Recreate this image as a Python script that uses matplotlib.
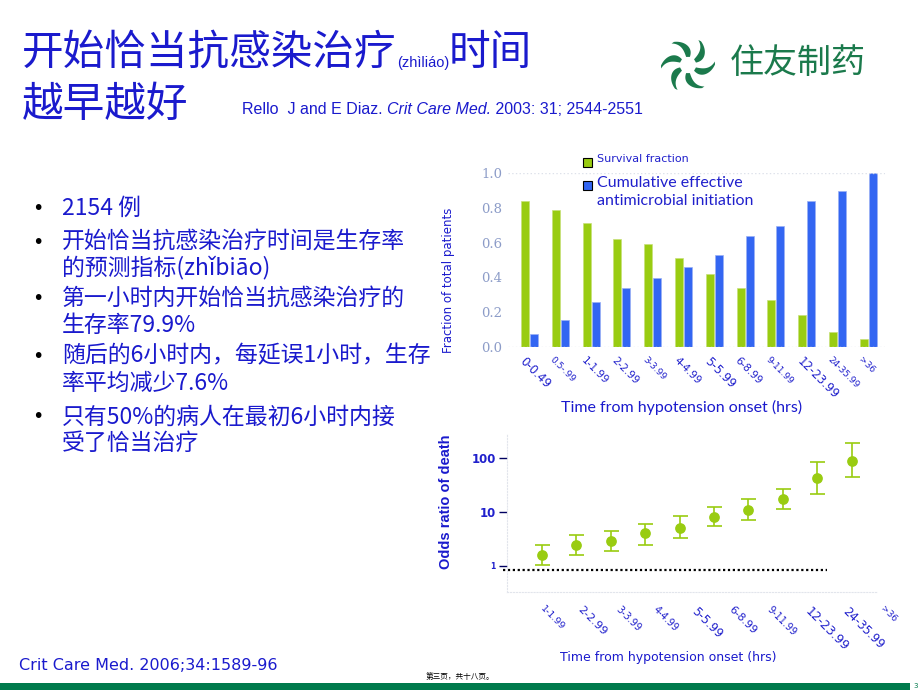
import numpy as np
import matplotlib
matplotlib.use("Agg")
import matplotlib.pyplot as plt
from matplotlib.patches import Polygon, Rectangle
from matplotlib.transforms import ScaledTranslation

# ------------------------------------------------------------------
# data
# ------------------------------------------------------------------
groups = ["0-0.49", "0.5-.99", "1-1.99", "2-2.99", "3-3.99", "4-4.99",
          "5-5.99", "6-8.99", "9-11.99", "12-23.99", "24-35.99", ">36"]
survival = [0.84, 0.79, 0.71, 0.62, 0.59, 0.51, 0.42, 0.34, 0.27, 0.185, 0.087, 0.046]
cumulative = [0.077, 0.156, 0.258, 0.338, 0.396, 0.46, 0.527, 0.64, 0.696, 0.838, 0.894, 1.0]
group_sizes = [8.5, 6.5, 7.5, 7.5, 6.5, 7.5, 8.5, 7.5, 6.5, 8.5, 6.5, 6.5]

or_groups = ["1-1.99", "2-2.99", "3-3.99", "4-4.99", "5-5.99", "6-8.99",
             "9-11.99", "12-23.99", "24-35.99", ">36"]
odds_ratio = [1.6, 2.45, 2.9, 4.0, 5.1, 8.1, 11.1, 17.6, 43, 89]
or_low = [1.03, 1.58, 1.87, 2.42, 3.27, 5.46, 7.05, 11.3, 21.4, 44.4]
or_high = [2.42, 3.7, 4.4, 6.0, 8.4, 12.3, 17.6, 26.6, 84, 190]
or_sizes = [6.8, 8.2, 7, 7, 8.5, 7.8, 7, 9, 8.5, 6.5]

bullets = [
    ["2154 例"],
    ["开始恰当抗感染治疗时间是生存率", "的预测指标(zhǐbiāo)"],
    ["第一小时内开始恰当抗感染治疗的", "生存率79.9%"],
    ["随后的6小时内，每延误1小时，生存", "率平均减少7.6%"],
    ["只有50%的病人在最初6小时内接", "受了恰当治疗"],
]
bullet_y = [[208], [242, 268], [298, 325], [356, 383], [417, 443]]

BLUE = "#1a1acd"
CBLUE = "#2020cc"
GREEN = "#99cc11"
BARBLUE = "#3366f2"
DGREEN = "#1b7a4c"
CJK = ["Noto Sans CJK SC", "DejaVu Sans"]

W, H = 920, 690
fig = plt.figure(figsize=(9.2, 6.9), dpi=100)
renderer = fig.canvas.get_renderer()


def fx(x):
    return x / W


def fy(y):
    return 1 - y / H


def text_after(prev, s, **kw):
    bb = prev.get_window_extent(renderer)
    return fig.text(bb.x1 / (fig.dpi * 9.2), prev.get_position()[1], s, **kw)


# ------------------------------------------------------------------
# title and reference
# ------------------------------------------------------------------
t = fig.text(fx(22), fy(54), "开始恰当抗感染治疗", fontsize=30, color=BLUE,
             family=CJK, va="center", fontweight="medium")
t = text_after(t, "(zhìliáo)", fontsize=10.5, color=BLUE,
               family="Liberation Sans", va="center")
t.set_y(fy(63))
t = text_after(t, "时间", fontsize=30, color=BLUE, family=CJK, va="center",
               fontweight="medium")
t.set_y(fy(54))
fig.text(fx(22), fy(105), "越早越好", fontsize=30, color=BLUE, family=CJK,
         va="center", fontweight="medium")

r = fig.text(fx(242), fy(109), "Rello  J and E Diaz. ", fontsize=11.5, color=BLUE,
             family="Liberation Sans", va="center")
r = text_after(r, "Crit Care Med.", fontsize=11.5, color=BLUE,
               family="Liberation Sans", style="italic", va="center")
r = text_after(r, " 2003: 31; 2544-2551", fontsize=11.5, color=BLUE,
               family="Liberation Sans", va="center")

# logo
lax = fig.add_axes([fx(661), fy(92), 54 / W, 54 / H])
lax.set_xlim(-1, 1)
lax.set_ylim(-1, 1)
lax.axis("off")
tt = np.linspace(0, 1, 30)
for k in range(6):
    a0 = np.pi / 2 + k * np.pi / 3
    rr = 0.3 + 0.7 * tt
    th = a0 + 0.6 * tt ** 2
    hw = 0.02 + 0.11 * np.sin(np.pi * (0.15 + 0.75 * tt))
    cx, cy = rr * np.cos(th), rr * np.sin(th)
    nx, ny = np.cos(th + np.pi / 2), np.sin(th + np.pi / 2)
    pts = np.vstack([np.column_stack([cx + hw * nx, cy + hw * ny]),
                     np.column_stack([cx - hw * nx, cy - hw * ny])[::-1]])
    lax.add_patch(Polygon(pts, closed=True, color=DGREEN, lw=0))
fig.text(fx(730), fy(64), "住友制药", fontsize=24.5, color=DGREEN, family=CJK,
         va="center", fontweight="medium")

# ------------------------------------------------------------------
# bullet list
# ------------------------------------------------------------------
for lines, ys in zip(bullets, bullet_y):
    fig.text(fx(32), fy(ys[0]), "•", fontsize=14, color="black", va="center")
    for line, y in zip(lines, ys):
        fig.text(fx(62), fy(y), line, fontsize=16.5, color=BLUE, family=CJK, va="center")

fig.text(fx(19), fy(665), "Crit Care Med. 2006;34:1589-96", fontsize=11.5,
         color=BLUE, va="center")

# ------------------------------------------------------------------
# top chart: fractions
# ------------------------------------------------------------------
ax1 = fig.add_axes([fx(508), fy(347), 377 / W, 174 / H])
x = np.arange(len(groups))
ax1.bar(x - 0.146, survival, 0.26, color=GREEN, edgecolor="#c8e07a", lw=0.5)
ax1.bar(x + 0.146, cumulative, 0.26, color=BARBLUE, edgecolor="#9ab0f5", lw=0.5)
ax1.set_xlim(-0.7, 11.54)
ax1.set_ylim(0, 1.0)
for s in ax1.spines.values():
    s.set_visible(False)
for yv in (0, 1.0):
    ax1.axhline(yv, color="#dde1ea", lw=1, ls=":")
ax1.set_yticks(np.linspace(0, 1, 6))
ax1.set_yticklabels([f"{v:.1f}" for v in np.linspace(0, 1, 6)],
                    family="DejaVu Serif", fontsize=9.5, color="#8c9cc8")
ax1.tick_params(axis="y", length=0, pad=4)
ax1.set_xticks(x)
ax1.set_xticklabels(groups, rotation=-45, ha="left", va="top", color=CBLUE)
ax1.tick_params(axis="x", length=0, pad=6)
for lab, sz in zip(ax1.get_xticklabels(), group_sizes):
    lab.set_fontsize(sz)
    lab.set_transform(lab.get_transform() + ScaledTranslation(-0.12, 0, fig.dpi_scale_trans))
ax1.set_ylabel("Fraction of total patients", color=BLUE, fontsize=8.5)
ax1.yaxis.set_label_coords(-0.14, 0.385)
fig.text(fx(682), fy(407), "Time from hypotension onset (hrs)", fontsize=11.5,
         family="Lato", color=BLUE, ha="center", va="center")

# legend
for ly, col in ((163, GREEN), (186, BARBLUE)):
    fig.patches.append(Rectangle((fx(583), fy(ly + 4)), 9 / W, 9 / H,
                                 transform=fig.transFigure, facecolor=col,
                                 edgecolor="black", lw=0.8))
fig.text(fx(597), fy(159), "Survival fraction", fontsize=8, color=CBLUE, va="center")
fig.text(fx(597), fy(192), "Cumulative effective\nantimicrobial initiation",
         fontsize=11.5, family="Lato", color=CBLUE, va="center", linespacing=1.3)

# ------------------------------------------------------------------
# bottom chart: odds ratio
# ------------------------------------------------------------------
ax2 = fig.add_axes([fx(507), fy(592), 370 / W, 159 / H])
xo = np.arange(len(or_groups))
yerr = [np.array(odds_ratio) - np.array(or_low), np.array(or_high) - np.array(odds_ratio)]
ax2.errorbar(xo, odds_ratio, yerr=yerr, fmt="o", color=GREEN, ms=6.7,
             capsize=5.4, elinewidth=1.2, capthick=1.2)
ax2.set_yscale("log")
ax2.set_ylim(0.33, 290)
ax2.set_xlim(-1.02, 9.74)
ax2.hlines(0.84, -1.15, 8.3, colors="black", linestyles=(0, (1, 1.2)), lw=1.6,
           clip_on=False)
ax2.spines["top"].set_visible(False)
ax2.spines["right"].set_visible(False)
for side in ("left", "bottom"):
    ax2.spines[side].set_color("#e2e5ec")
    ax2.spines[side].set_linestyle(":")
ax2.set_yticks([1, 10, 100])
ax2.set_yticklabels(["1", "10", "100"], color=CBLUE, fontweight="bold")
ax2.yaxis.set_minor_locator(matplotlib.ticker.NullLocator())
for lab, sz in zip(ax2.get_yticklabels(), (5.5, 8.5, 8.5)):
    lab.set_fontsize(sz)
ax2.tick_params(axis="y", length=6, width=1, color="#000060", pad=2)
ax2.set_xticks(xo)
ax2.set_xticklabels(or_groups, rotation=-45, ha="left", va="top", color=CBLUE)
ax2.tick_params(axis="x", length=0, pad=9)
for i, (lab, sz) in enumerate(zip(ax2.get_xticklabels(), or_sizes)):
    lab.set_fontsize(sz)
    lab.set_transform(lab.get_transform()
                      + ScaledTranslation((-4 + 3.4 * i) / 100, 0, fig.dpi_scale_trans))
ax2.set_ylabel("Odds ratio of death", color=BLUE, fontsize=10.5,
               family="Liberation Sans", fontweight="bold")
ax2.yaxis.set_label_coords(-0.146, 0.566)
fig.text(fx(668), fy(657), "Time from hypotension onset (hrs)", fontsize=9,
         color=BLUE, ha="center", va="center")

# ------------------------------------------------------------------
# footer
# ------------------------------------------------------------------
fig.patches.append(Rectangle((0, 0), fx(910), 7 / H, transform=fig.transFigure,
                             facecolor="#007a4c", edgecolor="none"))
fig.text(fx(460), fy(677), "第三页，共十八页。", fontsize=5.5, color="black",
         family=CJK, ha="center", va="center")
fig.text(fx(913), fy(686), "3", fontsize=5, color="#007a4c", ha="left", va="center")

fig.savefig("out.png", dpi=100)
